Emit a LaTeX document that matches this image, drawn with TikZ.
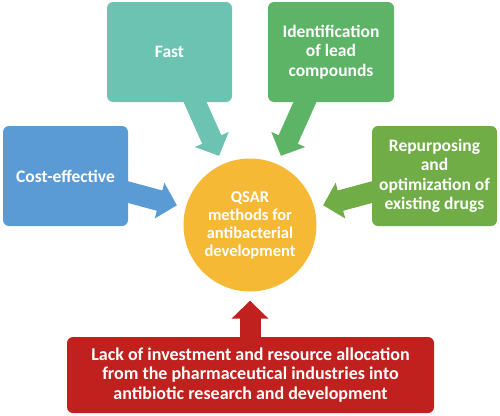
\documentclass[tikz,border=0pt]{standalone}
\usepackage{fontspec}
\setmainfont{Carlito}
\usetikzlibrary{arrows.meta,calc}
\pgfdeclarelayer{bg}
\pgfsetlayers{bg,main}
\definecolor{cteal}{HTML}{6CC3B2}
\definecolor{cgreen}{HTML}{5DB467}
\definecolor{cblue}{HTML}{5B9BD5}
\definecolor{colive}{HTML}{70AD47}
\definecolor{cyellow}{HTML}{F6B935}
\definecolor{cred}{HTML}{C0211E}
\begin{document}
\begin{tikzpicture}[x=1pt,y=-1pt,
  box/.style={rounded corners=6pt, text=white, align=center, inner sep=0pt,
    font=\bfseries\fontsize{17.5}{19.5}\selectfont,
    minimum width=125pt, minimum height=100pt},
  fatarrow/.style={line width=21pt, -{Triangle[length=18pt,width=36pt]}, shorten >=9pt}
]
\useasboundingbox (0,0) rectangle (500,415);
% nodes
\node[circle, fill=cyellow, minimum size=133pt, inner sep=0pt, text=white, align=center,
  font=\bfseries\fontsize{16.5}{18}\selectfont] (qsar) at (250,225)
  {QSAR\\methods for\\antibacterial\\development};
\node[box, fill=cteal] (fast) at (169.5,52) {Fast};
\node[box, fill=cgreen, minimum width=126pt] (lead) at (331,52) {Identification\\of lead\\compounds};
\node[box, fill=cblue] (cost) at (65.5,176) {Cost-effective};
\node[box, fill=colive] (rep) at (434.5,176) {Repurposing\\and\\optimization of\\existing drugs};
\node[box, fill=cred, minimum width=367pt, minimum height=76pt,
  font=\bfseries\fontsize{18}{19.5}\selectfont] (lack) at (250.5,375)
  {Lack of investment and resource allocation\\from the pharmaceutical industries into\\antibiotic research and development};
% start points inside boxes
\coordinate (sfast) at ($(fast.south)+(22.5,-7)$);
\coordinate (slead) at ($(lead.south)+(-23,-7)$);
\coordinate (scost) at ($(cost.east)+(-8,14)$);
\coordinate (srep) at ($(rep.west)+(8,14)$);
\coordinate (slack) at ($(lack.north)+(-0.5,8)$);
% arrows (behind boxes)
\begin{pgfonlayer}{bg}
\draw[fatarrow, cteal] (sfast) -- (qsar);
\draw[fatarrow, cgreen] (slead) -- (qsar);
\draw[fatarrow, cblue] (scost) -- (qsar);
\draw[fatarrow, colive] (srep) -- (qsar);
\draw[fatarrow, cred] (slack) -- (qsar);
\end{pgfonlayer}
\end{tikzpicture}
\end{document}
